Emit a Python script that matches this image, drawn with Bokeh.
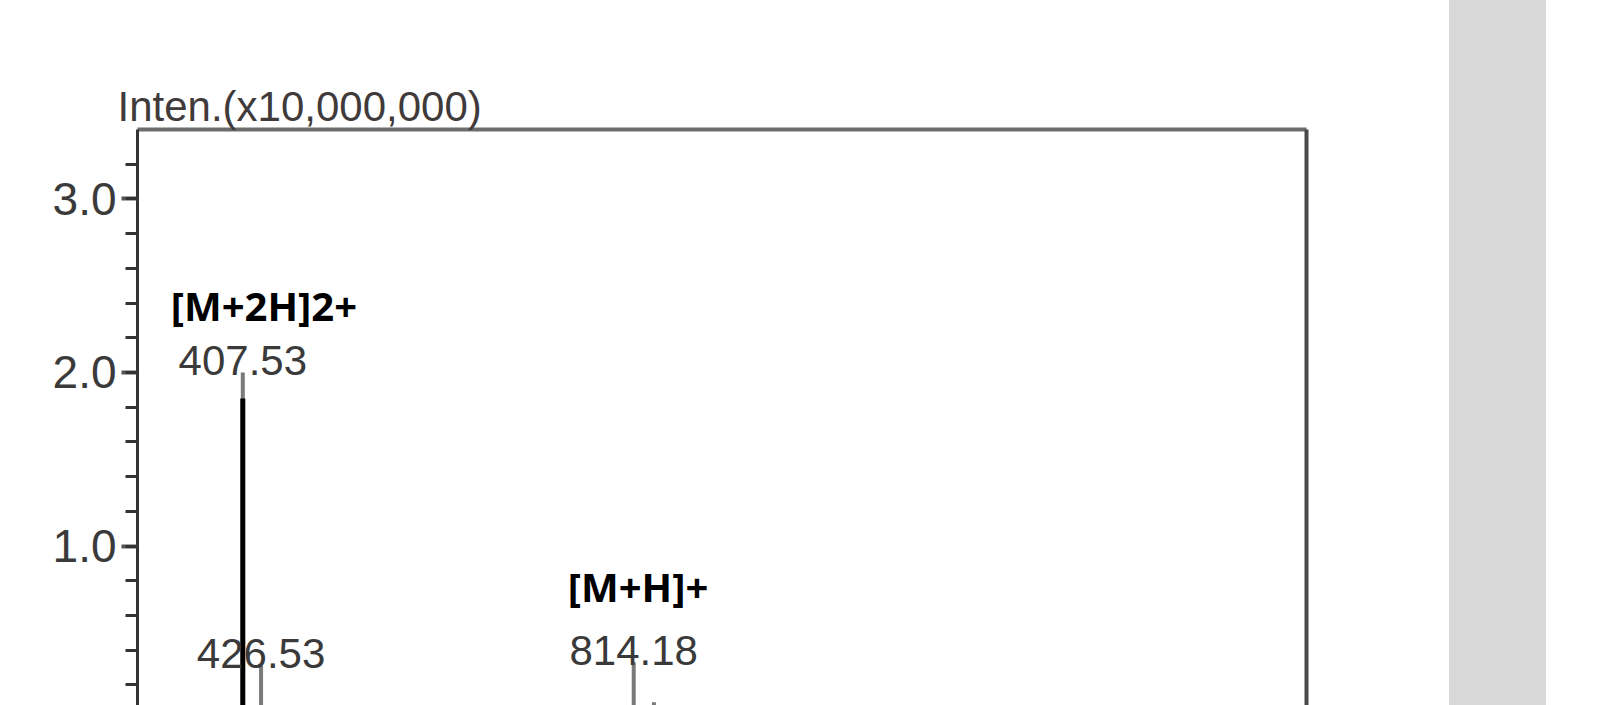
from bokeh.plotting import figure
from bokeh.models import (ColumnDataSource, FixedTicker, NumeralTickFormatter, Range1d, Div,
                          LinearAxis)
from bokeh.layouts import row
from bokeh.embed import file_html
from bokeh.resources import INLINE
from bokeh.core.properties import value

# ---------------- data (m/z, intensity in units of 10,000,000) ----------------
peak_mz = [407.53, 426.53, 814.18, 835.20]
peak_int = [2.00, 0.31, 0.33, 0.10]
overlay_mz = [407.53]
overlay_int = [1.85]
labelled_mz = [407.53, 426.53, 814.18]
labelled_int = [2.00, 0.31, 0.33]
ion_names = ["[M+2H]2+", "[M+H]+"]
ion_mz = [407.53, 814.18]
ion_int = [2.00, 0.33]
y_major_ticks = [0.0, 1.0, 2.0, 3.0]
y_axis_title = "Inten.(x10,000,000)"
x_min, x_max = 298.0, 1514.0
y_min, y_max = 0.081, 3.400

# ---------------- styles ----------------
ion_dx = [-72, -66]
ion_dy = [-67, -76]
W, H = 1449, 705
ML, MT = 137, 129
MR = W - 1306

p = figure(width=W, height=H, x_range=Range1d(x_min, x_max), y_range=Range1d(y_min, y_max),
           output_backend="svg", toolbar_location=None, x_axis_location=None,
           min_border_left=ML, min_border_right=MR, min_border_top=MT, min_border_bottom=0,
           background_fill_color="white", border_fill_color="white")
p.grid.visible = False
p.outline_line_color = None

yax = p.yaxis[0]
yax.ticker = FixedTicker(ticks=y_major_ticks,
                         minor_ticks=[round(0.2 * i, 1) for i in range(0, 17)])
yax.formatter = NumeralTickFormatter(format="0.0")
yax.axis_line_color = "#333333"
yax.axis_line_width = 3
yax.major_tick_in = 0
yax.major_tick_out = 16
yax.major_tick_line_width = 4
yax.major_tick_line_color = "#555555"
yax.minor_tick_in = 0
yax.minor_tick_out = 12
yax.minor_tick_line_width = 3
yax.minor_tick_line_color = "#333333"
yax.major_label_text_font = "Liberation Sans"
yax.major_label_text_font_size = "46px"
yax.major_label_text_color = "#3a3a3a"
yax.major_label_standoff = 5

# frame borders on top and right (the bottom runs off the page)
top_border = LinearAxis(ticker=FixedTicker(ticks=[]), axis_line_color="#6c6c6c",
                        axis_line_width=4, major_tick_line_color=None,
                        minor_tick_line_color=None, major_label_standoff=0)
right_border = LinearAxis(ticker=FixedTicker(ticks=[]), axis_line_color="#4a4a4a",
                          axis_line_width=4, major_tick_line_color=None,
                          minor_tick_line_color=None, major_label_standoff=0)
p.add_layout(top_border, "above")
p.add_layout(right_border, "right")

# axis title, written above the frame
p.title.text = y_axis_title
p.title.align = "left"
p.title.offset = -20
p.title.standoff = 0
p.title.text_font = "Liberation Sans"
p.title.text_font_style = "normal"
p.title.text_font_size = "42px"
p.title.text_color = "#403a3a"

# peaks
src = ColumnDataSource(dict(mz=peak_mz, inten=peak_int, base=[0.0] * len(peak_mz)))
p.segment(x0="mz", y0="base", x1="mz", y1="inten", source=src,
          line_color="#7a7a7a", line_width=4)
osrc = ColumnDataSource(dict(mz=overlay_mz, inten=overlay_int, base=[0.0] * len(overlay_mz)))
p.segment(x0="mz", y0="base", x1="mz", y1="inten", source=osrc,
          line_color="black", line_width=5)

# m/z labels
lsrc = ColumnDataSource(dict(mz=labelled_mz, inten=labelled_int,
                             txt=[f"{m:.2f}" for m in labelled_mz]))
p.text(x="mz", y="inten", text="txt", source=lsrc, text_align="center",
       text_baseline="middle", y_offset=-12,
       text_font=value("Liberation Sans"), text_font_size="42px", text_color="#3a3a3a")

# ion annotations
isrc = ColumnDataSource(dict(mz=ion_mz, inten=ion_int, txt=ion_names, dx=ion_dx, dy=ion_dy))
p.text(x="mz", y="inten", text="txt", source=isrc, x_offset="dx", y_offset="dy",
       text_align="left", text_baseline="middle",
       text_font=value("Open Sans"), text_font_style="bold", text_font_size="40px",
       text_color="black")

band = Div(width=97, height=H, margin=0, styles={"background-color": "#d9d9d9"})

layout = row(p, band)
open("out.html", "w").write(file_html(layout, INLINE))
